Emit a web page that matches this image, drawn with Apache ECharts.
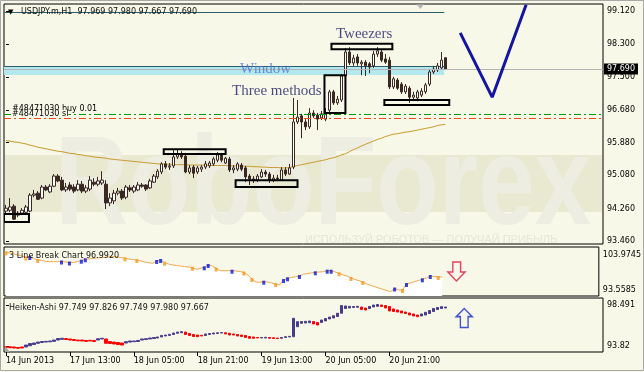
<!DOCTYPE html>
<html><head><meta charset="utf-8">
<script src="https://cdn.jsdelivr.net/npm/echarts@6/dist/echarts.min.js"></script>
<style>html,body{margin:0;padding:0;background:#F8F8E8}#c{width:644px;height:372px}</style>
</head><body><div id="c"></div>
<script>
// ---------- data ----------
const priceTicks = [93.46, 94.26, 95.08, 95.88, 96.68, 97.50, 98.30, 99.12];
const lbTicks = [93.5585, 103.9745];
const haTicks = [93.82, 98.491];
const haTickLabels = ['93.82', '98.491'];
const xTickIndex = [0, 16, 32, 48, 64, 80, 96];
const xTickLabels = ['14 Jun 2013','17 Jun 13:00','18 Jun 05:00','18 Jun 21:00','19 Jun 13:00','20 Jun 05:00','20 Jun 21:00'];

// USDJPY H1 candles: [open, close, low, high]
const usdjpyH1 = [
[94.20,94.27,94.13,94.35],[94.22,94.30,94.17,94.52],[94.32,94.00,93.98,94.37],[94.10,94.15,94.05,94.20],[94.15,94.22,94.10,94.27],
[94.17,94.30,94.13,94.35],[94.20,94.59,94.17,94.64],[94.59,94.62,94.54,94.72],[94.64,94.49,94.47,94.69],[94.52,94.79,94.49,94.84],
[94.79,94.72,94.69,94.84],[94.67,94.81,94.64,94.86],[94.81,95.06,94.79,95.11],[95.06,94.94,94.91,95.11],[94.96,94.72,94.69,95.04],
[94.72,94.79,94.67,94.89],[94.84,94.74,94.69,94.91],[94.79,94.69,94.64,94.86],[94.72,94.86,94.69,94.96],[94.86,94.69,94.64,94.94],
[94.69,94.77,94.64,94.84],[94.74,94.96,94.69,95.06],[94.91,94.86,94.81,95.01],[94.86,94.94,94.81,95.04],[94.89,94.96,94.84,95.18],
[94.86,94.40,94.25,94.96],[94.40,94.52,94.32,94.64],[94.45,94.64,94.37,94.72],[94.64,94.69,94.59,94.77],[94.69,94.52,94.47,94.74],
[94.54,94.79,94.49,94.84],[94.77,94.72,94.67,94.84],[94.69,94.79,94.64,94.84],[94.72,94.84,94.69,94.91],[94.84,94.81,94.77,94.89],
[94.84,94.74,94.69,94.86],[94.77,94.94,94.74,94.99],[94.91,95.06,94.89,95.11],[95.04,95.18,94.99,95.23],[95.16,95.36,95.11,95.40],
[95.36,95.28,95.23,95.43],[95.28,95.31,95.21,95.38],[95.31,95.53,95.26,95.70],[95.53,95.60,95.48,95.72],[95.60,95.53,95.48,95.67],
[95.55,95.16,95.13,95.63],[95.16,95.26,95.11,95.33],[95.28,95.13,95.01,95.33],[95.16,95.26,95.11,95.31],[95.23,95.28,95.16,95.33],
[95.28,95.36,95.23,95.43],[95.31,95.38,95.26,95.43],[95.36,95.48,95.31,95.53],[95.45,95.58,95.40,95.65],[95.58,95.45,95.40,95.63],
[95.38,95.50,95.36,95.53],[95.48,95.21,95.16,95.53],[95.21,95.26,95.13,95.33],[95.23,95.36,95.18,95.40],[95.33,95.23,95.18,95.38],
[95.26,95.04,94.91,95.31],[95.06,94.99,94.84,95.11],[94.96,94.99,94.89,95.06],[94.96,95.06,94.91,95.11],[95.04,95.16,95.01,95.23],
[95.16,95.11,95.04,95.21],[95.11,94.96,94.89,95.16],[94.96,95.01,94.91,95.09],[95.01,94.99,94.94,95.09],[94.96,95.21,94.94,95.28],
[95.21,95.11,95.06,95.28],[95.11,95.26,95.09,95.36],[95.28,96.39,95.23,96.98],[96.39,96.51,96.34,96.93],[96.54,96.39,95.99,96.59],
[96.39,96.27,96.19,96.46],[96.27,96.61,96.22,96.73],[96.61,96.54,96.49,96.68],[96.56,96.46,96.19,96.61],[96.49,96.59,96.44,96.66],
[96.46,96.61,96.41,96.73],[96.68,97.13,96.63,97.18],[97.13,96.86,96.81,97.18],[96.86,96.95,96.81,97.03],[96.93,97.52,96.88,97.57],
[97.52,98.11,97.47,98.21],[98.11,97.84,97.79,98.23],[97.84,97.96,97.77,98.04],[97.99,97.84,97.77,98.06],[97.82,97.86,97.54,97.91],
[97.86,97.77,97.52,97.91],[97.82,97.74,97.59,97.86],[97.77,98.06,97.72,98.14],[98.06,98.14,97.99,98.23],[98.11,97.91,97.86,98.18],
[97.94,97.86,97.82,98.06],[97.91,97.25,97.20,97.99],[97.25,97.45,97.20,97.50],[97.42,97.22,97.18,97.47],[97.32,97.13,97.08,97.37],
[97.13,97.27,97.08,97.32],[97.22,97.00,96.86,97.27],[97.00,97.05,96.95,97.13],[96.98,97.13,96.90,97.18],[97.05,97.15,97.00,97.22],
[97.13,97.30,97.08,97.35],[97.32,97.62,97.27,97.67],[97.62,97.69,97.57,97.77],[97.67,97.77,97.62,97.84],[97.72,97.91,97.67,98.11],
[97.969,97.690,97.667,97.980]
];

// moving average
const maLine = [
95.93,95.92,95.90,95.89,95.87,95.85,95.82,95.80,95.77,95.75,
95.73,95.71,95.69,95.67,95.66,95.64,95.62,95.61,95.59,95.58,
95.56,95.55,95.53,95.52,95.51,95.50,95.48,95.47,95.46,95.45,
95.44,95.43,95.42,95.41,95.40,95.39,95.38,95.37,95.36,95.36,
95.35,95.35,95.34,95.34,95.34,95.34,95.33,95.33,95.33,95.33,
95.33,95.32,95.32,95.32,95.32,95.32,95.31,95.31,95.31,95.31,
95.30,95.30,95.29,95.29,95.28,95.28,95.27,95.27,95.27,95.26,
95.26,95.27,95.30,95.32,95.34,95.36,95.38,95.40,95.42,95.44,
95.46,95.49,95.51,95.54,95.58,95.61,95.66,95.71,95.75,95.80,
95.84,95.88,95.92,95.96,95.99,96.03,96.06,96.09,96.10,96.12,
96.14,96.15,96.17,96.19,96.21,96.23,96.25,96.27,96.30,96.32,
96.33
];

// pattern boxes [startIdx, priceTop, endIdx, priceBottom]
const patternBoxes = [
[-0.5, 94.13, 5.75, 93.93],
[39.5, 95.72, 55, 95.60],
[57.5, 94.96, 73, 94.79],
[79.75, 97.54, 85, 96.61],
[81.5, 98.31, 96.75, 98.18],
[94.75, 96.93, 111, 96.81]
];
const windowBand = [[-0.5, 97.75, 109.75, 97.545]];
const trendLines = [[-0.5, 109.75, 99.09], [-0.5, 109.75, 97.775]];
const forecastIdx = [113.75, 121.75, 130.25];
const forecastPrice = [98.58, 97.00, 99.27];
const bidPrice = 97.690;
const buyPrice = 96.585;
const slPrice = 96.475;
const annotations = [
  {name: 'Tweezers', idx: 82.5, price: 98.55, color: '#1C1C66'},
  {name: 'Window', idx: 58.5, price: 97.69, color: '#4E74D6'},
  {name: 'Three methods', idx: 56.5, price: 97.14, color: '#1C1C66'}
];
const shiftMarker = [[103.75, 99.23]];

// 3 Line Break
const lbLevel = [
104.78,104.57,104.27,103.97,103.68,103.23,103.38,102.93,102.49,102.34,
102.04,101.98,101.98,101.98,102.04,101.89,101.74,101.74,102.04,102.28,
102.70,102.78,102.99,103.08,103.23,103.29,103.38,103.47,103.38,103.23,
102.99,102.78,102.63,102.49,102.19,101.89,101.68,101.50,102.19,102.49,
101.68,101.30,101.00,100.85,100.70,100.55,100.40,100.19,99.72,99.96,
100.31,101.00,100.70,99.96,99.30,99.30,99.30,99.30,99.21,99.06,
98.77,98.02,96.83,95.94,95.85,96.03,95.94,95.64,95.34,95.05,
96.53,97.04,97.28,97.49,97.72,98.23,98.47,98.62,98.83,98.91,
99.00,99.30,99.30,98.91,98.53,98.02,97.72,97.13,96.68,96.33,
95.94,95.34,94.90,94.54,94.15,93.77,93.41,93.05,94.00,93.56,
93.56,95.34,95.64,96.03,96.39,96.74,97.13,97.72,97.58,97.43,
97.43
];
const lbDownBricks = [[0,104.78],[5,103.23],[8,102.49],[30,102.99],[33,102.49],[40,101.68],[47,100.19],[53,99.96],[60,98.77],[62,96.83],[68,95.34],[84,98.53],[87,97.13],[90,95.94],[100,93.56],[109,97.43]];
const lbUpBricks = [[6,103.38],[14,102.04],[16,101.74],[19,102.28],[20,102.70],[38,102.19],[39,102.49],[50,100.31],[51,101.00],[57,99.30],[65,96.03],[70,96.53],[71,97.04],[74,97.72],[78,98.83],[81,99.30],[82,99.30],[98,94.00],[101,95.34],[105,96.74],[107,97.72]];
const lbArrow = [[113.6, 99.07]];

// Heiken-Ashi bodies [open, close]
const haBody = [
[93.74,93.63],[93.73,93.62],[93.71,93.59],[93.65,93.56],[93.71,93.59],[93.71,93.93],[93.85,94.10],[93.99,94.16],[94.13,94.27],[94.22,94.33],
[94.27,94.35],[94.30,94.39],[94.35,94.50],[94.50,94.67],[94.58,94.70],[94.67,94.56],[94.62,94.50],[94.56,94.45],[94.50,94.41],[94.50,94.39],
[94.45,94.35],[94.47,94.39],[94.45,94.33],[94.50,94.64],[94.62,94.70],[94.62,94.13],[94.33,94.10],[94.27,94.05],[94.22,93.99],[94.16,93.93],
[94.16,94.31],[94.27,94.39],[94.31,94.39],[94.33,94.45],[94.50,94.62],[94.56,94.65],[94.62,94.73],[94.67,94.79],[94.73,94.85],[94.85,95.02],
[94.96,95.07],[95.02,95.15],[95.13,95.30],[95.27,95.41],[95.33,95.45],[95.41,95.13],[95.24,95.02],[95.13,94.90],[95.07,94.88],[95.04,94.96],
[95.02,95.19],[95.13,95.24],[95.19,95.30],[95.24,95.33],[95.30,95.36],[95.33,95.19],[95.27,95.07],[95.19,95.07],[95.13,94.96],[95.07,94.90],
[95.02,94.79],[94.90,94.70],[94.85,94.70],[94.79,94.73],[94.73,94.79],[94.73,94.81],[94.79,94.70],[94.76,94.68],[94.73,94.67],[94.70,94.79],
[94.79,94.88],[94.85,94.92],[94.88,96.98],[96.02,96.59],[96.41,96.61],[96.44,96.63],[96.47,96.67],[96.61,96.33],[96.50,96.21],[96.50,96.78],
[96.67,96.95],[96.90,97.12],[97.01,97.27],[97.18,97.55],[97.55,98.43],[98.09,98.38],[98.15,98.34],[98.21,98.32],[98.23,98.34],[98.26,97.98],
[98.15,97.92],[98.09,98.32],[98.26,98.49],[98.34,98.55],[98.49,98.32],[98.43,98.15],[98.32,97.81],[98.04,97.75],[97.92,97.69],[97.81,97.58],
[97.69,97.52],[97.58,97.35],[97.47,97.24],[97.35,97.16],[97.24,97.47],[97.35,97.66],[97.52,97.86],[97.75,98.09],[97.98,98.21],[98.09,98.30],
[98.15,98.26]
];
const haArrow = [[114.75, 97.01]];

// ---------- chart ----------
const FONT = 'DejaVu Sans';
const BG = '#F8F8E8';
const chart = echarts.init(document.getElementById('c'));

const xBase = {type: 'value', min: -0.5, max: 149.5, splitLine: {show: false}};
function yAxis(grid, min, max, ticks, fmt) {
  return {
    type: 'value', gridIndex: grid, position: 'right', min: min, max: max,
    axisLine: {show: false}, splitLine: {show: false},
    axisTick: {show: true, length: 3, customValues: ticks, lineStyle: {color: '#000'}},
    axisLabel: {show: true, customValues: ticks, formatter: fmt, margin: 4,
      fontFamily: FONT, fontSize: 8, color: '#000'}
  };
}
const hLineRender = (params, api) => {
  const a = api.coord([api.value(0), api.value(2)]);
  const b = api.coord([api.value(1), api.value(2)]);
  return {type: 'line', shape: {x1: a[0], y1: Math.round(a[1]) + 0.5, x2: b[0], y2: Math.round(b[1]) + 0.5},
    style: {stroke: '#2E5C68', lineWidth: 1}};
};
const rectRender = (style) => (params, api) => {
  const a = api.coord([api.value(0), api.value(1)]);
  const b = api.coord([api.value(2), api.value(3)]);
  return {type: 'rect', shape: {x: Math.min(a[0], b[0]), y: Math.min(a[1], b[1]),
    width: Math.abs(b[0] - a[0]), height: Math.abs(b[1] - a[1])}, style: style};
};
const downArrowPath = 'path://M5,0 L13,0 L13,10 L17.5,10 L8.75,19 L0,10 L5,10 Z';
const upArrowPath = 'path://M8.3,0 L16.6,8.3 L12.3,8.3 L12.3,19.4 L4.3,19.4 L4.3,8.3 L0,8.3 Z';

const option = {
  backgroundColor: BG,
  animation: false,
  grid: [
    {left: 4, top: 4, width: 599, height: 240, show: true, borderColor: '#000', borderWidth: 1, backgroundColor: 'transparent'},
    {left: 4, top: 247, width: 599, height: 49, show: true, borderColor: '#000', borderWidth: 1, backgroundColor: 'transparent'},
    {left: 4, top: 298, width: 599, height: 54, show: true, borderColor: '#000', borderWidth: 1, backgroundColor: 'transparent'}
  ],
  xAxis: [
    Object.assign({gridIndex: 0, show: false}, xBase),
    Object.assign({gridIndex: 1, show: false}, xBase),
    Object.assign({gridIndex: 2, show: true, axisLine: {show: false},
      axisTick: {show: true, length: 4, customValues: xTickIndex, lineStyle: {color: '#000'}},
      axisLabel: {show: true, customValues: xTickIndex, align: 'left', margin: 5,
        formatter: v => xTickLabels[xTickIndex.indexOf(Math.round(v))] || '',
        fontFamily: FONT, fontSize: 8, color: '#000'}}, xBase)
  ],
  yAxis: [
    yAxis(0, 93.39, 99.29, priceTicks, v => v.toFixed(3)),
    yAxis(1, 91.773, 106.355, lbTicks, v => v.toFixed(4)),
    yAxis(2, 93.136, 99.289, haTicks, v => {
      const k = haTicks.findIndex(t => Math.abs(t - v) < 1e-6); return k >= 0 ? haTickLabels[k] : '';
    })
  ],
  graphic: [
    {type: 'rect', z: 1, silent: true, shape: {x: 5, y: 155, width: 597, height: 57}, style: {fill: '#E9E9D2'}},
    {type: 'text', z: 1, silent: true, x: 55, y: 189, scaleX: 0.8,
      style: {text: 'RoboForex', font: 'bold 127px "Liberation Sans"', fill: '#EDEDE1', verticalAlign: 'middle'}},
    {type: 'text', z: 1, silent: true, x: 305, y: 240,
      style: {text: 'ИСПОЛЬЗУЙ РОБОТОВ — ПОЛУЧАЙ ПРИБЫЛЬ', font: '11px "Liberation Sans"', fill: '#E6E6D8', verticalAlign: 'middle'}},
    {type: 'text', z: 5, silent: true, x: 8, y: 12,
      style: {text: '▼', font: '7px "DejaVu Sans"', fill: '#000', verticalAlign: 'middle'}},
    {type: 'text', z: 5, silent: true, x: 21, y: 12,
      style: {text: 'USDJPY.m,H1  97.969 97.980 97.667 97.690', font: '8px "DejaVu Sans"', fill: '#111', verticalAlign: 'middle'}},
    {type: 'text', z: 5, silent: true, x: 9, y: 256,
      style: {text: '3 Line Break Chart 96.9920', font: '8px "DejaVu Sans"', fill: '#111', verticalAlign: 'middle'}},
    {type: 'text', z: 5, silent: true, x: 9, y: 308,
      style: {text: 'Heiken-Ashi 97.749 97.826 97.749 97.980 97.667', font: '8px "DejaVu Sans"', fill: '#111', verticalAlign: 'middle'}},
    {type: 'polygon', z: 5, silent: true, shape: {points: [[5, 346], [5, 352], [10, 352]]}, style: {fill: '#A8A8A8'}},
    {type: 'rect', z: 0, silent: true, shape: {x: 0.5, y: 0.5, width: 643, height: 370}, style: {fill: 'none', stroke: '#A8A8A8', lineWidth: 1}}
  ],
  series: [
    {type: 'custom', name: 'window', xAxisIndex: 0, yAxisIndex: 0, z: 2, silent: true, clip: true,
      data: windowBand, encode: {x: [0, 2], y: [1, 3]}, renderItem: rectRender({fill: '#B2E8EE'})},
    {type: 'custom', name: 'levels', xAxisIndex: 0, yAxisIndex: 0, z: 2, silent: true, clip: true,
      data: trendLines, encode: {x: [0, 1], y: 2}, renderItem: hLineRender},
    {type: 'line', name: 'MA', xAxisIndex: 0, yAxisIndex: 0, z: 2, silent: true,
      data: maLine.map((v, i) => [i, v]), symbol: 'none', lineStyle: {color: '#C89A2C', width: 1}},
    {type: 'candlestick', name: 'USDJPY', xAxisIndex: 0, yAxisIndex: 0, z: 3, silent: true, barWidth: 3,
      data: usdjpyH1.map((r, i) => [i, r[0], r[1], r[2], r[3]]),
      itemStyle: {color: '#FFFFFF', color0: '#3A2822', borderColor: '#3A2822', borderColor0: '#3A2822', borderWidth: 1},
      markLine: {silent: true, symbol: ['none', 'none'], animation: false, data: [
        {yAxis: bidPrice, lineStyle: {color: '#B4B4B4', width: 1, type: 'solid'},
          label: {show: true, position: 'end', formatter: bidPrice.toFixed(3), color: '#FFF', backgroundColor: '#000',
            padding: [2, 3, 1, 3], fontFamily: FONT, fontSize: 8, distance: 1}},
        {yAxis: buyPrice, lineStyle: {color: '#009A00', width: 1, type: [7, 3, 2, 3]},
          label: {show: true, position: 'insideStartTop', formatter: '#48471030 buy 0.01', color: '#000',
            fontFamily: FONT, fontSize: 8, distance: [8, 1]}},
        {yAxis: slPrice, lineStyle: {color: '#F04C14', width: 1, type: [7, 3, 2, 3]},
          label: {show: true, position: 'insideStartTop', formatter: '#48471030 sl', color: '#000',
            backgroundColor: BG, fontFamily: FONT, fontSize: 8, distance: [8, 1]}}
      ]}},
    {type: 'custom', name: 'boxes', xAxisIndex: 0, yAxisIndex: 0, z: 4, silent: true, clip: true,
      data: patternBoxes, encode: {x: [0, 2], y: [1, 3]}, renderItem: rectRender({fill: 'none', stroke: '#000', lineWidth: 2})},
    {type: 'line', name: 'forecast', xAxisIndex: 0, yAxisIndex: 0, z: 5, silent: true,
      data: forecastIdx.map((x, i) => [x, forecastPrice[i]]), symbol: 'none',
      lineStyle: {color: '#1414A2', width: 3}},
    {type: 'scatter', name: 'notes', xAxisIndex: 0, yAxisIndex: 0, z: 6, silent: true,
      symbolSize: 1, itemStyle: {color: 'rgba(0,0,0,0)'},
      data: annotations.map(a => ({name: a.name, value: [a.idx, a.price],
        label: {show: true, position: 'right', distance: 0, formatter: '{b}', color: a.color,
          fontFamily: 'Liberation Serif', fontSize: 15}}))},
    {type: 'scatter', name: 'shift', xAxisIndex: 0, yAxisIndex: 0, z: 6, silent: true,
      symbol: 'triangle', symbolRotate: 180, symbolSize: [8, 5], itemStyle: {color: '#A8A8A8'}, data: shiftMarker},

    {type: 'line', name: '3LB', xAxisIndex: 1, yAxisIndex: 1, z: 2, silent: true,
      data: lbLevel.map((v, i) => [i, v]), symbol: 'none',
      lineStyle: {color: '#F0A850', width: 1}, areaStyle: {color: '#FFFFFF', opacity: 1, origin: 'start'}},
    {type: 'scatter', name: '3LB down', xAxisIndex: 1, yAxisIndex: 1, z: 3, silent: true,
      symbol: 'rect', symbolSize: [3, 4], symbolOffset: [0, 1], itemStyle: {color: '#F39A1E'}, data: lbDownBricks},
    {type: 'scatter', name: '3LB up', xAxisIndex: 1, yAxisIndex: 1, z: 3, silent: true,
      symbol: 'rect', symbolSize: [3, 4], symbolOffset: [0, 1], itemStyle: {color: '#0A14DC'}, data: lbUpBricks},
    {type: 'scatter', name: 'sell', xAxisIndex: 1, yAxisIndex: 1, z: 4, silent: true,
      symbol: downArrowPath, symbolSize: [17, 19], itemStyle: {color: BG, borderColor: '#E0163F', borderWidth: 1.5}, data: lbArrow},

    {type: 'candlestick', name: 'Heiken-Ashi', xAxisIndex: 2, yAxisIndex: 2, z: 3, silent: true, barWidth: 3,
      data: haBody.map((r, i) => [i, r[0], r[1], Math.min(r[0], r[1]), Math.max(r[0], r[1])]),
      itemStyle: {color: '#463C8C', color0: '#FF0000', borderColor: '#463C8C', borderColor0: '#FF0000', borderWidth: 1}},
    {type: 'scatter', name: 'buy', xAxisIndex: 2, yAxisIndex: 2, z: 4, silent: true,
      symbol: upArrowPath, symbolSize: [16, 19], itemStyle: {color: BG, borderColor: '#1428D2', borderWidth: 1.5}, data: haArrow}
  ]
};
chart.setOption(option);
</script>
</body></html>
